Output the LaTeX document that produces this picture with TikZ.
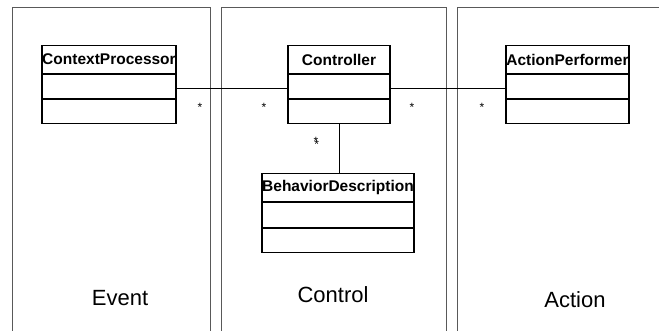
\documentclass[tikz,border=0pt]{standalone}
\usepackage{fontspec}
\setmainfont{Liberation Sans}
\begin{document}
\begin{tikzpicture}[x=1pt,y=-1pt,
  panel/.style={draw=black!65,line width=0.9pt},
  ctitle/.style={draw=black,line width=1.1pt,minimum height=28pt,inner sep=0pt,anchor=north,font=\fontsize{15.5}{15.5}\selectfont\bfseries},
  ccomp/.style={draw=black,line width=1.1pt,minimum height=24pt,inner sep=0pt,anchor=north},
  assoc/.style={draw=black,line width=0.7pt},
  mult/.style={inner sep=0pt,font=\fontsize{12}{12}\selectfont},
  zone/.style={inner sep=0pt,anchor=base,font=\fontsize{22}{22}\selectfont}]
\useasboundingbox (0,0) rectangle (659,330);
\fill[white] (0,0) rectangle (659,330);
% panels
\draw[panel] (12,331) -- (12,7.5) -- (210,7.5) -- (210,331);
\draw[panel] (221,331) -- (221,7.5) -- (446,7.5) -- (446,331);
\draw[panel] (457,331) -- (457,7.5) -- (660,7.5);
% classes
\node[ctitle,minimum width=134pt] (cp) at (109,45) {ContextProcessor};
\node[ccomp,minimum width=134pt] (cp1) at (cp.south) {};
\node[ccomp,minimum width=134pt] (cp2) at (cp1.south) {};
\node[ctitle,minimum width=102pt] (ct) at (339,45) {Controller};
\node[ccomp,minimum width=102pt] (ct1) at (ct.south) {};
\node[ccomp,minimum width=102pt] (ct2) at (ct1.south) {};
\node[ctitle,minimum width=123pt] (ap) at (567.5,45) {ActionPerformer};
\node[ccomp,minimum width=123pt] (ap1) at (ap.south) {};
\node[ccomp,minimum width=123pt] (ap2) at (ap1.south) {};
\node[ctitle,minimum width=152pt] (bd) at (338,173) {BehaviorDescription};
\node[ccomp,minimum width=152pt,minimum height=25pt] (bd1) at (bd.south) {};
\node[ccomp,minimum width=152pt] (bd2) at (bd1.south) {};
% associations
\draw[assoc] ([yshift=-2pt]cp1.east) -- ([yshift=-2pt]ct1.west);
\draw[assoc] ([yshift=-2pt]ct1.east) -- ([yshift=-2pt]ap1.west);
\draw[assoc] (ct2.south) -- (ct2.south |- bd.north);
% multiplicities
\node[mult] (m1) at (200,107) {*};
\node[mult] (m2) at (264,107) {*};
\node[mult] (m3) at (412,107) {*};
\node[mult] (m4) at (482,107) {*};
\node[mult] (m5) at (316,143) {\rlap{\raisebox{-3.5pt}{\hspace{0.8pt}*}}*};
% zone labels
\node[zone] (ev) at (120,305) {Event};
\node[zone] (co) at (333,302) {Control};
\node[zone] (ac) at (575,307) {Action};
\end{tikzpicture}
\end{document}
